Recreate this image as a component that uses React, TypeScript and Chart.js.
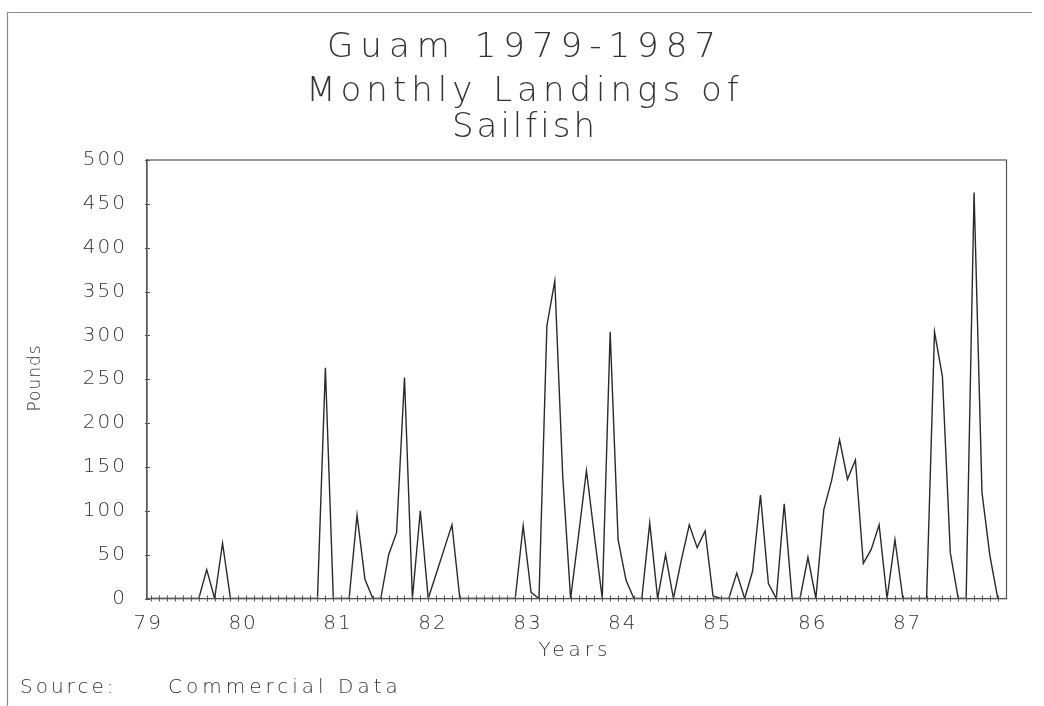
import React, { useEffect, useRef } from 'react';
import { Chart, registerables } from 'chart.js';

Chart.register(...registerables);

// ---- Data (monthly landings, pounds) ----
const yearLabels = ['79', '80', '81', '82', '83', '84', '85', '86', '87'];
const landings1979 = [0, 0, 0, 0, 0, 0, 0, 33, 0, 63, 0, 0];
const landings1980 = [0, 0, 0, 0, 0, 0, 0, 0, 0, 0, 263, 0];
const landings1981 = [0, 0, 95, 22, 0, 0, 50, 75, 252, 0, 100, 0];
const landings1982 = [28, 56, 84, 0, 0, 0, 0, 0, 0, 0, 0, 83];
const landings1983 = [7, 0, 311, 362, 140, 0, 72, 146, 72, 0, 304, 67];
const landings1984 = [21, 0, 0, 86, 0, 50, 0, 44, 84, 58, 77, 3];
const landings1985 = [0, 0, 29, 0, 31, 118, 17, 0, 108, 0, 0, 47];
const landings1986 = [0, 101, 135, 181, 136, 158, 40, 56, 84, 0, 67, 0];
const landings1987 = [0, 0, 0, 304, 253, 52, 0, 0, 463, 121, 49, 0];
const pounds = [
  ...landings1979, ...landings1980, ...landings1981, ...landings1982, ...landings1983,
  ...landings1984, ...landings1985, ...landings1986, ...landings1987,
];
const yMin = 0;
const yMax = 500;
const yStep = 50;

const titleLines = ['Guam 1979-1987', 'Monthly Landings of', 'Sailfish'];
const xTitle = 'Years';
const yTitle = 'Pounds';
const sourceLabel = 'Source:';
const sourceText = 'Commercial Data';

const FONT = '"DejaVu Sans", "Liberation Sans", sans-serif';
const WEIGHT = '200';
const INK = '#333333';

const decorPlugin = {
  id: 'decor',
  beforeDraw(chart: any) {
    const ctx = chart.ctx;
    ctx.save();
    ctx.fillStyle = '#ffffff';
    ctx.fillRect(0, 0, chart.width, chart.height);
    ctx.restore();
    (ctx as any).letterSpacing = '2px';
  },
  afterDraw(chart: any) {
    const ctx = chart.ctx;
    const { left, right, top, bottom } = chart.chartArea;
    const xs = chart.scales.x;
    const ys = chart.scales.y;
    ctx.save();
    // plot frame
    ctx.strokeStyle = '#555';
    ctx.lineWidth = 1.2;
    ctx.strokeRect(left, top, right - left, bottom - top);
    // month tick marks crossing the x axis
    ctx.lineWidth = 1;
    ctx.beginPath();
    for (let i = 0; i < pounds.length; i++) {
      const px = Math.round(xs.getPixelForValue(i)) + 0.5;
      ctx.moveTo(px, bottom - 3);
      ctx.lineTo(px, bottom + 3);
    }
    // y ticks straddling the y axis
    for (let v = yMin; v <= yMax; v += yStep) {
      const py = Math.round(ys.getPixelForValue(v)) + 0.5;
      ctx.moveTo(left - 2, py);
      ctx.lineTo(left + 3, py);
    }
    ctx.stroke();

    // page frame
    ctx.strokeStyle = '#8a8a8a';
    ctx.lineWidth = 1.2;
    ctx.beginPath();
    ctx.moveTo(7.5, chart.height);
    ctx.lineTo(7.5, 12.5);
    ctx.lineTo(1032, 12.5);
    ctx.stroke();

    // texts
    ctx.fillStyle = INK;
    ctx.font = `${WEIGHT} 34px ${FONT}`;
    ctx.textAlign = 'center';
    ctx.textBaseline = 'alphabetic';
    const baselines = [57, 101, 137];
    const spacing = ['7px', '5px', '3px'];
    titleLines.forEach((t, i) => {
      (ctx as any).letterSpacing = spacing[i];
      ctx.fillText(t, 525, baselines[i]);
    });

    (ctx as any).letterSpacing = '4px';
    ctx.font = `${WEIGHT} 20px ${FONT}`;
    ctx.textBaseline = 'middle';
    ctx.fillText(xTitle, 575, 651);

    ctx.save();
    (ctx as any).letterSpacing = '1px';
    ctx.translate(36, 378);
    ctx.rotate(-Math.PI / 2);
    ctx.font = `${WEIGHT} 17px ${FONT}`;
    ctx.fillText(yTitle, 0, 0);
    ctx.restore();

    ctx.textAlign = 'left';
    ctx.font = `${WEIGHT} 20px ${FONT}`;
    (ctx as any).letterSpacing = '3px';
    ctx.fillText(sourceLabel, 20, 688);
    (ctx as any).letterSpacing = '4px';
    ctx.fillText(sourceText, 168, 688);
    ctx.restore();
    (ctx as any).letterSpacing = '0px';
  },
};

export default function App() {
  const canvasRef = useRef<HTMLCanvasElement | null>(null);

  useEffect(() => {
    if (!canvasRef.current) return;
    const chart = new Chart(canvasRef.current, {
      type: 'line',
      data: {
        datasets: [
          {
            data: pounds.map((v, i) => ({ x: i, y: v })),
            borderColor: '#2a2a2a',
            borderWidth: 1.4,
            pointRadius: 0,
            tension: 0,
            fill: false,
          },
        ],
      },
      options: {
        responsive: false,
        animation: false,
        events: [],
        layout: { padding: { left: 0, top: 160, right: 37.5, bottom: 0 } },
        plugins: {
          legend: { display: false },
          tooltip: { enabled: false },
          title: { display: false },
        },
        scales: {
          x: {
            type: 'linear',
            min: -0.55,
            max: 108.1,
            afterFit: (s: any) => { s.height = 107.5; },
            afterBuildTicks: (s: any) => {
              s.ticks = yearLabels.map((_, k) => ({ value: 12 * k - 0.4 }));
            },
            ticks: {
              autoSkip: false,
              maxRotation: 0,
              padding: 13,
              color: INK,
              font: { family: FONT, size: 20, weight: WEIGHT as any },
              callback: (v: any) => yearLabels[Math.round((Number(v) + 0.4) / 12)],
            },
            grid: { display: true, drawOnChartArea: false, drawTicks: false },
            border: { display: true, color: '#555', width: 1.2 },
          },
          y: {
            min: yMin,
            max: yMax,
            afterFit: (s: any) => { s.width = 147; },
            ticks: {
              stepSize: yStep,
              padding: 20,
              color: INK,
              font: { family: FONT, size: 20, weight: WEIGHT as any },
            },
            grid: { display: true, drawOnChartArea: false, drawTicks: false },
            border: { display: true, color: '#555', width: 1.2 },
          },
        },
      },
      plugins: [decorPlugin],
    });
    return () => chart.destroy();
  }, []);

  return (
    <div style={{ position: 'absolute', left: 0, top: 0, width: 1044, height: 706, background: '#fff' }}>
      <canvas ref={canvasRef} width={1044} height={706} />
    </div>
  );
}
